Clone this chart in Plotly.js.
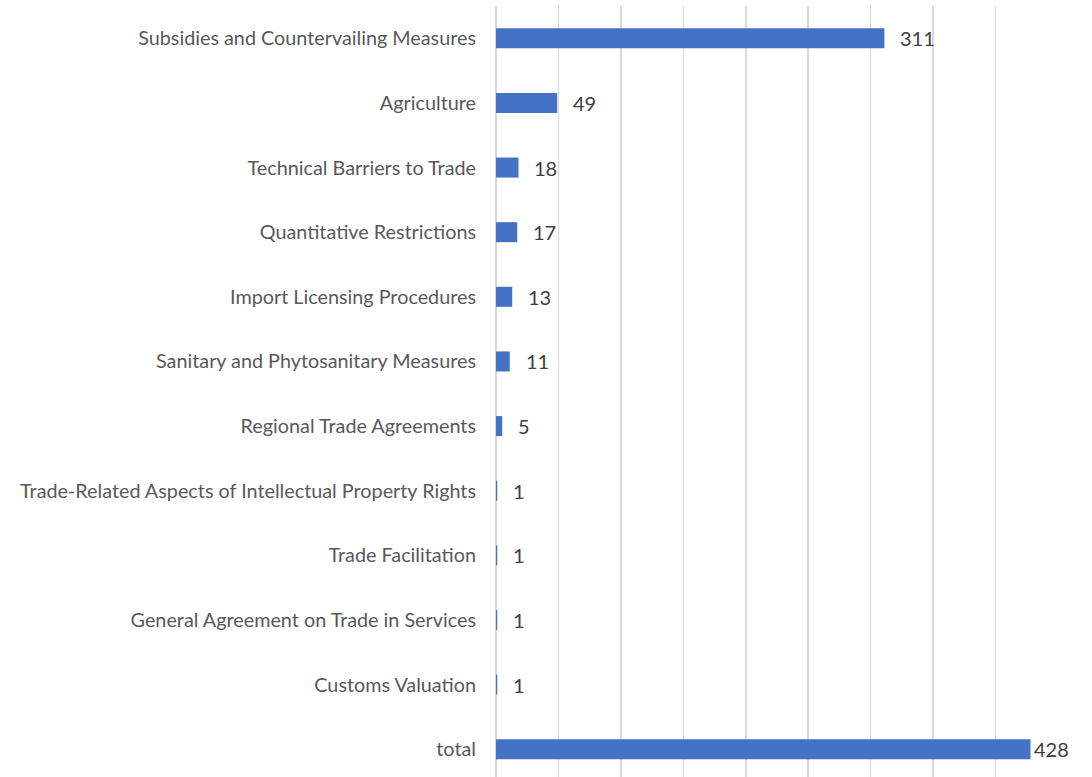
<!DOCTYPE html>
<html>
<head>
<meta charset="utf-8">
<script src="https://cdn.plot.ly/plotly-3.0.1.min.js"></script>
<style>html,body{margin:0;padding:0;background:#fff;}#chart{width:1092px;height:777px;}</style>
</head>
<body>
<div id="chart"></div>
<script>
const categories = [
  "Subsidies and Countervailing Measures",
  "Agriculture",
  "Technical Barriers to Trade",
  "Quantitative Restrictions",
  "Import Licensing Procedures",
  "Sanitary and Phytosanitary Measures",
  "Regional Trade Agreements",
  "Trade-Related Aspects of Intellectual Property Rights",
  "Trade Facilitation",
  "General Agreement on Trade in Services",
  "Customs Valuation",
  "total"
];
const values = [311, 49, 18, 17, 13, 11, 5, 1, 1, 1, 1, 428];
const labelShift = [14, 14, 14, 14, 14, 14, 14, 14, 14, 14, 14, 1];

const trace = {
  type: 'bar',
  orientation: 'h',
  y: categories,
  x: values,
  marker: {color: '#4472C4'},
  width: 0.31,
  hoverinfo: 'x+y'
};

const annotations = values.map((v, i) => ({
  x: v, y: categories[i], xref: 'x', yref: 'y',
  text: String(v), showarrow: false, xanchor: 'left', yanchor: 'middle',
  xshift: labelShift[i],
  font: {family: 'Lato, "Open Sans", sans-serif', size: 20, color: '#404040'}
}));

const layout = {
  width: 1092, height: 777,
  margin: {l: 496, r: 34, t: 6, b: 0, pad: 0},
  paper_bgcolor: '#fff', plot_bgcolor: '#fff',
  showlegend: false,
  xaxis: {
    range: [0, 450], dtick: 50, tick0: 0,
    showgrid: true, gridcolor: '#d9d9d9', gridwidth: 1.5,
    zeroline: true, zerolinecolor: '#d9d9d9', zerolinewidth: 1.5,
    showticklabels: false, ticks: '', showline: false, fixedrange: true
  },
  yaxis: {
    type: 'category',
    range: [11.43, -0.5],
    showgrid: false, zeroline: false, showline: false, ticks: '',
    ticklabelstandoff: 19,
    tickfont: {family: 'Lato, "Open Sans", sans-serif', size: 19.8, color: '#595959'},
    fixedrange: true
  },
  annotations: annotations
};

Plotly.newPlot('chart', [trace], layout, {displayModeBar: false, staticPlot: true});
</script>
</body>
</html>
